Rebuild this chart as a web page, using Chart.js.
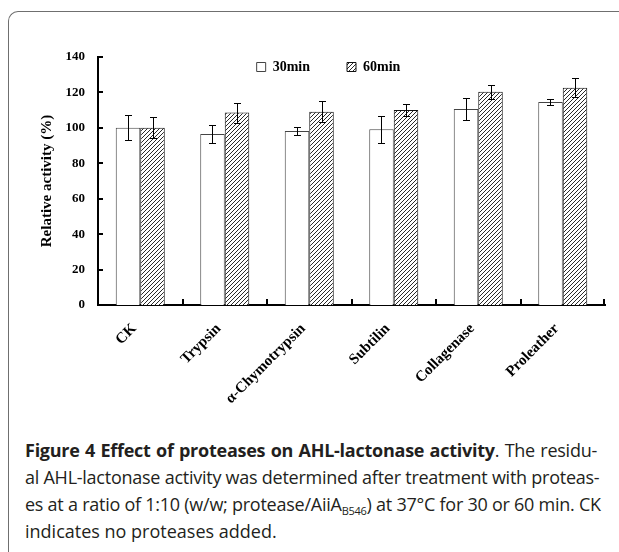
<!DOCTYPE html>
<html>
<head>
<meta charset="utf-8">
<script src="https://cdn.jsdelivr.net/npm/chart.js@4/dist/chart.umd.min.js"></script>
<style>
  html, body { margin: 0; padding: 0; background: #fff; }
  body { width: 619px; height: 552px; position: relative; overflow: hidden; }
  #frame { position: absolute; left: 8px; top: 11px; width: 700px; height: 700px;
           border-left: 1px solid #6f6f6f; border-top: 1px solid #6f6f6f; border-top-left-radius: 10px; }
  #wrap { position: absolute; left: 0; top: 0; width: 619px; height: 420px; }
  #caption { position: absolute; left: 25px; top: 437px; width: 572px;
             font-family: "Open Sans", "Noto Sans", sans-serif; font-size: 18px; line-height: 27px;
             letter-spacing: -0.25px; color: #231f20; }
  #caption .ln { text-align: justify; text-align-last: justify; white-space: nowrap; }
  #caption .last { text-align: left; text-align-last: left; letter-spacing: 0; }
  #caption sub { font-size: 11px; line-height: 0; vertical-align: -4px; }
</style>
</head>
<body>
<div id="frame"></div>
<div id="wrap"><canvas id="c" width="619" height="420"></canvas></div>
<div id="caption">
  <div class="ln"><b>Figure 4 Effect of proteases on AHL-lactonase activity</b>. The residu-</div>
  <div class="ln">al AHL-lactonase activity was determined after treatment with proteas-</div>
  <div class="ln">es at a ratio of 1:10 (w/w; protease/AiiA<sub>B546</sub>) at 37°C for 30 or 60 min. CK</div>
  <div class="ln last">indicates no proteases added.</div>
</div>
<script>
const categories = ['CK', 'Trypsin', 'α-Chymotrypsin', 'Subtilin', 'Collagenase', 'Proleather'];
const seriesNames = ['30min', '60min'];
const values30 = [100, 96.5, 98.2, 99.2, 110.6, 114.6];
const errors30 = [7, 5, 2.3, 7.7, 6, 1.5];
const values60 = [100, 108.6, 109.1, 110.1, 120.4, 122.7];
const errors60 = [6, 5.7, 6, 3.3, 4, 5.2];
const yTicks = [0, 20, 40, 60, 80, 100, 120, 140];
const yTitle = 'Relative activity (%)';

function hatchPattern() {
  const c = document.createElement('canvas');
  c.width = 4; c.height = 4;
  const g = c.getContext('2d');
  g.fillStyle = '#fff'; g.fillRect(0, 0, 4, 4);
  g.strokeStyle = '#2a2a2a'; g.lineWidth = 1;
  g.beginPath();
  g.moveTo(0, 4); g.lineTo(4, 0);
  g.moveTo(-1, 1); g.lineTo(1, -1);
  g.moveTo(3, 5); g.lineTo(5, 3);
  g.stroke();
  return g.createPattern(c, 'repeat');
}

const serif = '"Liberation Serif", "Times New Roman", serif';
Chart.defaults.color = '#000';

const errorBars = {
  id: 'errorBars',
  afterDatasetsDraw(chart) {
    const ctx = chart.ctx, y = chart.scales.y;
    ctx.save();
    ctx.strokeStyle = '#000'; ctx.lineWidth = 1;
    chart.data.datasets.forEach((ds, di) => {
      const meta = chart.getDatasetMeta(di);
      meta.data.forEach((bar, i) => {
        const v = ds.data[i], e = ds.errors[i];
        const x = Math.round(bar.x) + 0.5;
        const yt = Math.round(y.getPixelForValue(v + e)) + 0.5;
        const yb = Math.round(y.getPixelForValue(v - e)) + 0.5;
        ctx.beginPath();
        ctx.moveTo(x, yt); ctx.lineTo(x, yb);
        ctx.moveTo(x - 3.5, yt); ctx.lineTo(x + 3.5, yt);
        ctx.moveTo(x - 3.5, yb); ctx.lineTo(x + 3.5, yb);
        ctx.stroke();
      });
    });
    ctx.restore();
  }
};

const innerTicks = {
  id: 'innerTicks',
  afterDraw(chart) {
    const ctx = chart.ctx, xs = chart.scales.x, ys = chart.scales.y;
    ctx.save();
    ctx.strokeStyle = '#000'; ctx.lineWidth = 2;
    ys.ticks.forEach(t => {
      const py = Math.round(ys.getPixelForValue(t.value));
      ctx.beginPath(); ctx.moveTo(xs.left, py); ctx.lineTo(xs.left + 5, py); ctx.stroke();
    });
    const n = categories.length;
    for (let i = 1; i <= n; i++) {
      let px;
      if (i === n) px = xs.right - 1;
      else px = (xs.getPixelForValue(i - 1) + xs.getPixelForValue(i)) / 2;
      px = Math.round(px);
      ctx.beginPath(); ctx.moveTo(px, ys.bottom); ctx.lineTo(px, ys.bottom - 6); ctx.stroke();
    }
    ctx.restore();
  }
};

// Legend sits inside the plot (as in the original figure): it takes no layout space,
// and is then moved to its place over the plot.
const overlayLegend = {
  id: 'overlayLegend',
  beforeLayout(chart) {
    const lg = chart.legend;
    if (lg && !lg._overlayPatched) {
      const fit = lg.fit.bind(lg);
      lg.fit = function () { fit(); this._realHeight = this.height; this.height = 0; };
      lg._overlayPatched = true;
    }
  },
  afterLayout(chart) {
    const lg = chart.legend;
    if (!lg) return;
    const dx = 328.5 - (lg.left + lg.right) / 2;
    lg.left += dx; lg.right += dx;
    const pad = lg.options.labels.padding;
    lg.height = lg._realHeight;
    lg.top = 60 - pad;
    lg.bottom = lg.top + lg.height;
  }
};

const hatch = hatchPattern();

new Chart(document.getElementById('c'), {
  type: 'bar',
  data: {
    labels: categories,
    datasets: [
      { label: seriesNames[0], data: values30, errors: errors30,
        backgroundColor: '#fff', borderColor: '#444', borderWidth: 1,
        categoryPercentage: 0.58, barPercentage: 1.0 },
      { label: seriesNames[1], data: values60, errors: errors60,
        backgroundColor: hatch, borderColor: '#111', borderWidth: 1,
        categoryPercentage: 0.58, barPercentage: 1.0 }
    ]
  },
  options: {
    responsive: false,
    animation: false,
    devicePixelRatio: 1,
    layout: { padding: { top: 57, left: 0, right: 14, bottom: 0 } },
    plugins: {
      legend: {
        position: 'top',
        align: 'center',
        labels: {
          boxWidth: 9, boxHeight: 9, padding: 37,
          font: { family: serif, size: 14, weight: 'bold' }, color: '#000'
        }
      },
      tooltip: { enabled: false }
    },
    scales: {
      x: {
        grid: { display: false, drawTicks: false },
        border: { display: true, color: '#000', width: 2 },
        ticks: {
          minRotation: 45, maxRotation: 45, autoSkip: false,
          padding: 15, labelOffset: -6,
          font: { family: serif, size: 15, weight: 'bold' }, color: '#000'
        },
        afterFit(s) { s.height = 420 - 305; }
      },
      y: {
        min: 0, max: 140,
        afterBuildTicks(s) { s.ticks = yTicks.map(v => ({ value: v })); },
        grid: { display: false, drawTicks: false },
        border: { display: true, color: '#000', width: 2 },
        ticks: {
          padding: 13,
          font: { family: serif, size: 13, weight: 'bold' }, color: '#000'
        },
        title: {
          display: true, text: yTitle,
          font: { family: serif, size: 15, weight: 'bold' }, color: '#000',
          padding: { top: 38, bottom: 0 }
        },
        afterFit(s) { s.width = 98; }
      }
    }
  },
  plugins: [errorBars, innerTicks, overlayLegend]
});
</script>
</body>
</html>
